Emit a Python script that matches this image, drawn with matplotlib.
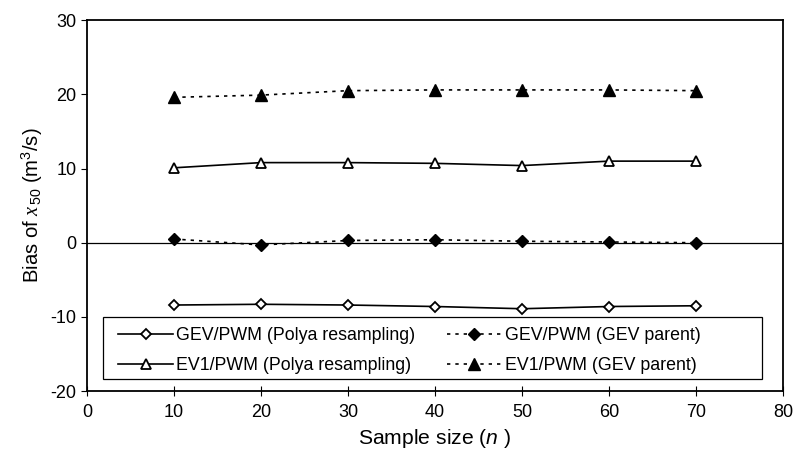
import matplotlib
matplotlib.use("Agg")
import matplotlib.pyplot as plt
from matplotlib.patches import Rectangle

plt.rcParams['font.family'] = ['Liberation Sans', 'DejaVu Sans']
plt.rcParams['axes.unicode_minus'] = False
plt.rcParams['mathtext.fontset'] = 'custom'
plt.rcParams['mathtext.it'] = 'Liberation Serif:italic'
plt.rcParams['mathtext.rm'] = 'Liberation Sans'
plt.rcParams['mathtext.bf'] = 'Liberation Sans:italic'

n = [10, 20, 30, 40, 50, 60, 70]
gev_polya = [-8.4, -8.3, -8.4, -8.6, -8.9, -8.6, -8.5]
gev_parent = [0.5, -0.3, 0.3, 0.4, 0.2, 0.1, 0.0]
ev1_polya = [10.1, 10.8, 10.8, 10.7, 10.4, 11.0, 11.0]
ev1_parent = [19.6, 19.9, 20.5, 20.6, 20.6, 20.6, 20.5]

fig = plt.figure(figsize=(7.94, 4.59), dpi=100)
ax = fig.add_axes([0.1096, 0.148, 0.8766, 0.808])

ax.axhline(0, color='black', lw=0.9, zorder=1)

l1, = ax.plot(n, gev_polya, color='black', lw=1.2, marker='D', ms=5.5,
              mfc='white', mec='black', mew=1.3, label='GEV/PWM (Polya resampling)')
l2, = ax.plot(n, gev_parent, color='black', lw=1.2, ls=(0, (2, 3)), marker='D', ms=6,
              mfc='black', mec='black', label='GEV/PWM (GEV parent)')
l3, = ax.plot(n, ev1_polya, color='black', lw=1.2, marker='^', ms=7,
              mfc='white', mec='black', mew=1.3, label='EV1/PWM (Polya resampling)')
l4, = ax.plot(n, ev1_parent, color='black', lw=1.2, ls=(0, (2, 3)), marker='^', ms=8,
              mfc='black', mec='black', label='EV1/PWM (GEV parent)')

ax.set_xlim(0, 80)
ax.set_ylim(-20, 30)
ax.set_xticks(range(0, 81, 10))
ax.set_yticks(range(-20, 31, 10))
ax.tick_params(axis='x', direction='inout', length=7, labelsize=13, pad=6)
ax.tick_params(axis='y', direction='out', length=4, labelsize=13)
for s in ax.spines.values():
    s.set_linewidth(1.3)

ax.set_xlabel('Sample size ($\\mathbf{n}$ )', fontsize=15.2)
ax.set_ylabel('Bias of $\\mathit{x}_{\\,50}$ (m$^3$/s)', fontsize=14.6)

# legend box (Excel style, wider than its contents)
ax.add_patch(Rectangle((0.023, 0.032), 0.947, 0.167, transform=ax.transAxes,
                       facecolor='white', edgecolor='black', lw=0.9, zorder=3))
leg = ax.legend(handles=[l1, l3, l2, l4], ncol=2, loc='upper left',
                bbox_to_anchor=(0.0445, 0.172), borderaxespad=0,
                fontsize=12.8, frameon=False, borderpad=0,
                handlelength=3.1, handletextpad=0.15,
                labelspacing=0.7, columnspacing=1.8)
leg.set_zorder(4)

fig.savefig('out.png', dpi=100)
